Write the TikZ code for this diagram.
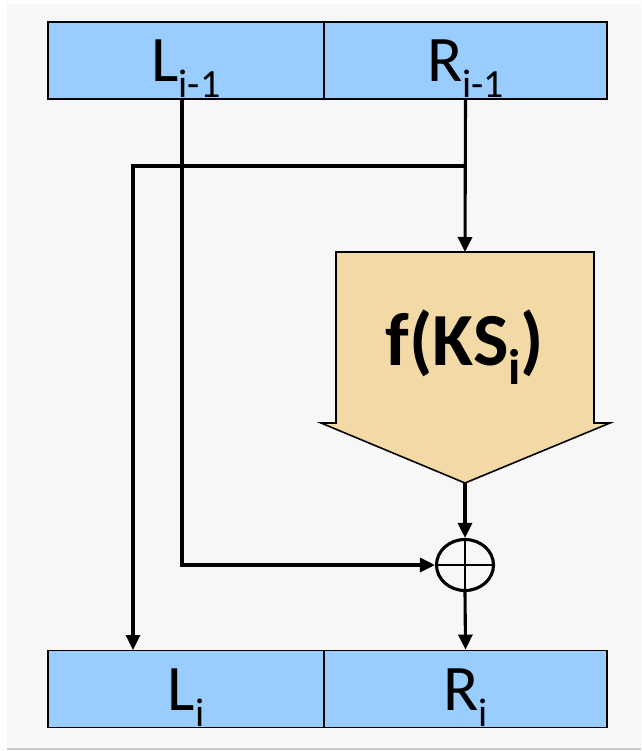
\documentclass[tikz,border=0pt]{standalone}
\usepackage{fontspec}
\setmainfont{Carlito}
\usetikzlibrary{arrows.meta,shapes.geometric}

\definecolor{registro}{RGB}{153,204,255}
\definecolor{funcion}{RGB}{243,217,166}
\definecolor{fondo}{RGB}{247,247,247}
% subindice bajado
\newcommand{\idx}[2][40]{\raisebox{-0.39\dimexpr #1pt\relax}{\fontsize{#1}{#1}\selectfont #2}}

\begin{document}
\begin{tikzpicture}[x=1pt,y=-1pt,line width=3.1pt,>={Triangle[length=15pt,width=14pt]},
  reg/.style={draw,fill=registro,line width=1.9pt,minimum height=77pt,inner sep=0pt,
    text height=50pt,text depth=7pt,font=\fontsize{65}{65}\selectfont}]
  \useasboundingbox (0,0) rectangle (641,751);
  % fondo
  \fill[fondo] (7,4) rectangle (641,748);
  \draw[black!22,line width=1.6pt] (7,749.2) -- (641,749.2);
  % registros de entrada
  \node[reg,minimum width=276pt] (Lant) at (186,60.5) {L\idx{i-1}};
  \node[reg,minimum width=283pt] (Rant) at (465.5,60.5) {R\idx{i-1}};
  % registros de salida
  \node[reg,minimum width=276pt] (Lnue) at (186,689) {L\idx{i}};
  \node[reg,minimum width=283pt] (Rnue) at (465.5,689) {R\idx{i}};
  % funcion de ronda
  \coordinate (ftop) at (465,252);
  \coordinate (fpunta) at (465,483);
  \filldraw[fill=funcion,line width=1.6pt,line join=miter]
    (336,252) -- (594,252) -- (594,423) -- (610,423) -- (fpunta)
    -- (321,423) -- (336,423) -- cycle;
  \node[anchor=base,font=\bfseries\fontsize{75}{75}\selectfont] (fnom) at (465,365) {f(KS\idx[50]{i})};
  % suma xor
  \node[draw,ellipse,minimum width=57pt,minimum height=51pt,inner sep=0pt] (xor) at (465,565) {};
  \draw[line width=2.6pt] (xor.north) -- (xor.south) (xor.west) -- (xor.east);
  % conexiones
  \coordinate (bif) at (465,166);
  \coordinate (Lent) at (133,650);
  \draw[->] (Rant.south) -- (ftop);
  \draw[->] (bif) -| (Lent);
  \draw[->] ([xshift=-4pt]Lant.south) |- (xor.west);
  \draw[->] (fpunta) -- (xor.north);
  \draw[->] (xor.south) -- (Rnue.north);
\end{tikzpicture}
\end{document}
